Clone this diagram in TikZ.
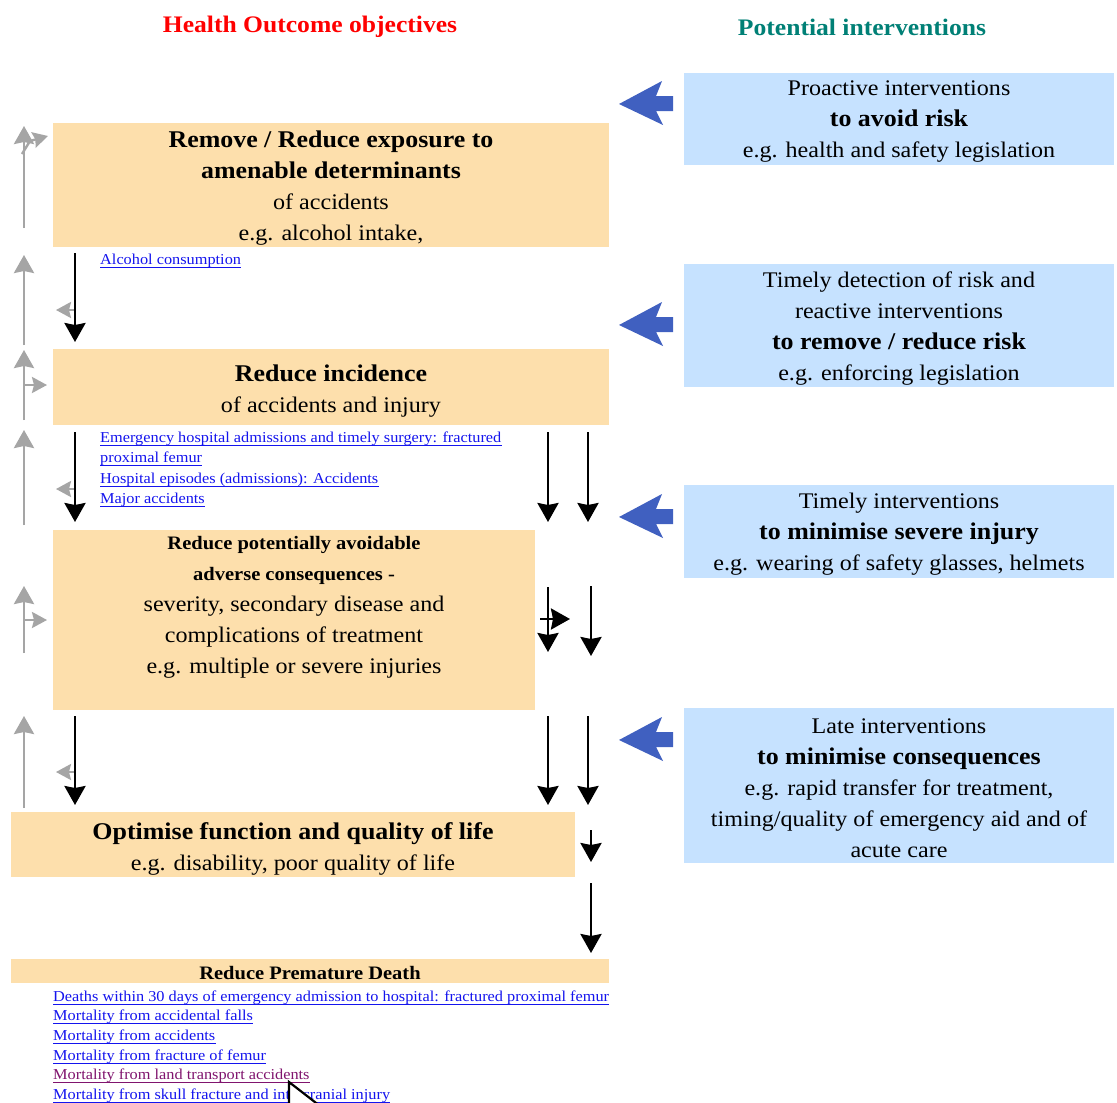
\documentclass[tikz,border=0pt]{standalone}
\usepackage{fontspec}
\setmainfont[FakeStretch=1.08]{Liberation Serif}
\usetikzlibrary{arrows.meta}
\definecolor{obox}{RGB}{253,223,172}
\definecolor{bbox}{RGB}{198,226,255}
\definecolor{barrowc}{RGB}{64,96,192}
\definecolor{garr}{RGB}{165,165,165}
\definecolor{lnkc}{RGB}{20,20,238}
\definecolor{vlnk}{RGB}{128,20,110}
\definecolor{teal2}{RGB}{0,128,118}
\newcommand\rgf{\fontsize{22.3}{31}\selectfont}
\newcommand\bgf{\fontsize{24}{31}\selectfont\bfseries}
\newcommand\sbf{\fontsize{19}{30.5}\selectfont\bfseries}
\tikzset{
  obx/.style={fill=obox, draw=none, inner sep=0pt, anchor=north west},
  bbx/.style={fill=bbox, draw=none, inner sep=0pt, anchor=north west},
  txt/.style={align=center, inner sep=0pt, font=\rgf, text=black},
  lnk/.style={anchor=west, inner sep=0pt, font=\fontsize{15.1}{19.7}\selectfont, text=lnkc},
  blk/.style={draw=black, line width=2.8pt, -{Stealth[length=19pt,width=21pt,inset=2pt]}},
  gry/.style={draw=garr, line width=2.8pt, -{Stealth[length=18pt,width=20pt,inset=2pt]}},
  gsm/.style={draw=garr, line width=2.4pt, -{Stealth[length=15pt,width=16pt,inset=2pt]}},
  blarrow/.pic={\fill[barrowc] (0,0) -- (43,-23) -- (37,-8) -- (54,-8) -- (54,7) -- (37,7) -- (44,21) -- cycle;}
}
\begin{document}
\begin{tikzpicture}[x=1pt,y=-1pt]
\useasboundingbox (0,0) rectangle (1117,1103);
\fill[white] (0,0) rectangle (1117,1103);

% titles
\node[inner sep=0pt, font=\fontsize{23.7}{28}\selectfont\bfseries, text=red] (tl) at (310,27) {Health Outcome objectives};
\node[inner sep=0pt, font=\fontsize{23.7}{28}\selectfont\bfseries, text=teal2] (tr) at (862,27) {Potential interventions};

% orange boxes
\node[obx, minimum width=556pt, minimum height=124pt] (ob1) at (53,123) {};
\node[obx, minimum width=556pt, minimum height=76pt] (ob2) at (53,349) {};
\node[obx, minimum width=482pt, minimum height=180pt] (ob3) at (53,530) {};
\node[obx, minimum width=564pt, minimum height=65pt] (ob4) at (11,812) {};
\node[obx, minimum width=598pt, minimum height=24pt] (ob5) at (11,959) {};

\node[txt] (ot1) at (331,188) {{\bgf Remove / Reduce exposure to}\\{\bgf amenable determinants}\\of accidents\\e.g. alcohol intake,};
\node[txt] (ot2) at (331,391) {{\bgf Reduce incidence}\\of accidents and injury};
\node[txt] (ot3) at (294,607) {{\sbf Reduce potentially avoidable}\\{\sbf adverse consequences -}\\severity, secondary disease and\\complications of treatment\\e.g. multiple or severe injuries};
\node[txt] (ot4) at (293,849) {{\bgf Optimise function and quality of life}\\e.g. disability, poor quality of life};
\node[txt, font=\sbf] (ot5) at (310,973) {Reduce Premature Death};

% blue boxes
\node[bbx, minimum width=430pt, minimum height=92pt] (bb1) at (684,73) {};
\node[bbx, minimum width=430pt, minimum height=123pt] (bb2) at (684,264) {};
\node[bbx, minimum width=430pt, minimum height=93pt] (bb3) at (684,485) {};
\node[bbx, minimum width=430pt, minimum height=155pt] (bb4) at (684,708) {};

\node[txt] (bt1) at (899,122) {Proactive interventions\\{\bgf to avoid risk}\\e.g. health and safety legislation};
\node[txt] (bt2) at (899,329) {Timely detection of risk and\\reactive interventions\\{\bgf to remove / reduce risk}\\e.g. enforcing legislation};
\node[txt] (bt3) at (899,534) {Timely interventions\\{\bgf to minimise severe injury}\\e.g. wearing of safety glasses, helmets};
\node[txt] (bt4) at (899,788) {Late interventions\\{\bgf to minimise consequences}\\e.g. rapid transfer for treatment,\\timing/quality of emergency aid and of\\acute care};

% blue block arrows
\pic at (619,104) {blarrow};
\pic at (619,325) {blarrow};
\pic at (619,517) {blarrow};
\pic at (619,740) {blarrow};

% links
\node[lnk] (l1) at (100,261) {Alcohol consumption};
\node[lnk] (l2) at (100,439) {Emergency hospital admissions and timely surgery: fractured};
\node[lnk] (l3) at (100,459) {proximal femur};
\node[lnk] (l4) at (100,480) {Hospital episodes (admissions): Accidents};
\node[lnk] (l5) at (100,500) {Major accidents};
\node[lnk] (d1) at (53,998) {Deaths within 30 days of emergency admission to hospital: fractured proximal femur};
\node[lnk] (d2) at (53,1017) {Mortality from accidental falls};
\node[lnk] (d3) at (53,1037) {Mortality from accidents};
\node[lnk] (d4) at (53,1057) {Mortality from fracture of femur};
\node[lnk, text=vlnk] (d5) at (53,1076) {Mortality from land transport accidents};
\node[lnk] (d6) at (53,1096) {Mortality from skull fracture and intracranial injury};
\foreach \n/\c in {l1/lnkc,l2/lnkc,l3/lnkc,l4/lnkc,l5/lnkc,d1/lnkc,d2/lnkc,d3/lnkc,d4/lnkc,d5/vlnk,d6/lnkc}
  \draw[\c, line width=1.1pt] ([yshift=-2.6pt]\n.base west) -- ([yshift=-2.6pt]\n.base east);

% gray upward arrows (left column)
\draw[gry] (24,228) -- (24,126);
\draw[gsm] (22,154) -- (30,141) -- (48,136);
\draw[gry] (24,345) -- (24,255);
\draw[gry] (24,420) -- (24,350);
\draw[gsm] (24,385) -- (47,385);
\draw[gry] (24,525) -- (24,430);
\draw[gry] (24,653) -- (24,586);
\draw[gsm] (24,620) -- (47,620);
\draw[gry] (24,808) -- (24,716);

% small gray left heads at the black arrows
\draw[gsm] (74,310) -- (56,310);
\draw[gsm] (74,489) -- (56,489);
\draw[gsm] (74,772) -- (56,772);

% black downward arrows
\draw[blk] (75,253) -- (75,342);
\draw[blk] (75,432) -- (75,522);
\draw[blk] (75,716) -- (75,805);
\draw[blk] (548,432) -- (548,522);
\draw[blk] (588,432) -- (588,522);
\draw[blk] (548,587) -- (548,652);
\draw[blk] (591,586) -- (591,656);
\draw[blk] (540,619) -- (570,619);
\draw[blk] (548,716) -- (548,805);
\draw[blk] (588,716) -- (588,805);
\draw[blk] (591,830) -- (591,862);
\draw[blk] (591,883) -- (591,953);

% mouse pointer
\draw[black, line width=2.2pt, fill=white] (289,1106) -- (289,1082) -- (320,1106);
\end{tikzpicture}
\end{document}
